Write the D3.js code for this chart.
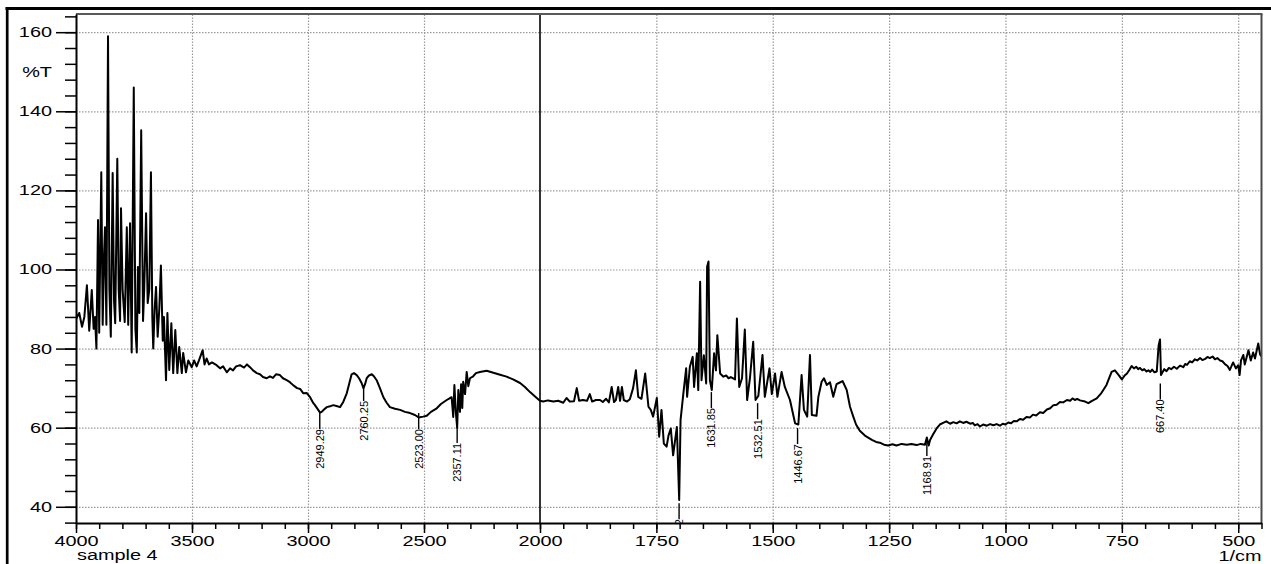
<!DOCTYPE html>
<html>
<head>
<meta charset="utf-8">
<script src="https://cdn.jsdelivr.net/npm/d3@7"></script>
<style>
  html, body { margin: 0; padding: 0; background: #fff; }
  svg { display: block; }
  text { font-family: "Liberation Sans", Arial, sans-serif; fill: #000; }
</style>
</head>
<body>
<svg id="chart" width="1271" height="564"></svg>
<script>
// ---------------- DATA ----------------
const wavenumberHead = [
4000,3986,3974,3964,3953,3943,3932,3924,3918,3912,3905,3900,3891,3885,3879,3875,3869,3862,3856,3850,
3842,3836,3831,3822,3816,3810,3806,3799,3790,3781,3775,3767,3760,3751,3744,3738,3733,3727,3719,3711,
3706,3698,3691,3684,3677,3671,3667,3661,3655,3648,3641,3634,3626,3621,3612,3606,3598,3589,3581,3572,
3563,3555,3544,3538,3526,3516,3501,3491,3480,3470,3454,3446,3437,3427,3414,3394,3379,3366,3350,3336,
3323,3310,3293,3276,3263,3250,3237,3221,3207,3194,3178,3164,3151,3138,3121,3108,3092,3078,3063,3047,
3034,3020,3006,2991,2977,2970,2956,2948,2941,2931,2919,2905,2891,2877,2862,2848,2833,2823,2812,2802,
2790,2780,2769,2761,2754,2747,2737,2725,2716,2704,2690,2675,2661,2647,2625,2603,2582,2560,2539,2523,
2504,2488,2470,2445,2427,2402,2388,2381,2374,2369,2363,2357,2352,2345,2340,2335,2331,2323,2316,2309,
2302,2288,2276,2259,2230,2201,2172,2144,2116,2086,2065,2043,2014,2000
];
const transmittanceHead = [
87.5,89,85.5,88,96,84.5,94.8,85,88,80,112.5,84,124.6,86,104,110.7,86,159,95,83,
124.4,92,86.4,128,95,87,115.5,94.8,86.7,110.7,86,111.7,79,146,85,79,100.6,89,135.2,87,
95,114.2,91.5,95,124.6,88,80,90,95.6,83,90,101,82,88,72,89,74.6,86.4,73.8,84.7,
73.8,80.4,73.8,78.9,74,77,75.3,77,75.5,77,79.6,76,77.5,76,76.5,75.8,75,75.5,74,75,
74.5,75.5,75.8,75.2,76,75.3,74.5,73.8,73.5,72.8,72.5,73,72.6,73.5,73.3,72.5,72,71.5,70.7,70,
69.8,68.7,68.8,67.7,66.2,65.7,64.5,63.8,64,64.6,65.2,65.4,65.7,65.5,65.2,66.5,68.7,71,73.5,73.8,
73.3,72.5,71.3,70,71,72.5,73.2,73.5,73,72,70,67.7,66.3,65.2,64.8,64.5,64,63.7,63.2,62.6,
62.8,63,64,64.9,66,67,67.5,67.7,62.7,70.8,64,60,69.5,64,71,65,71.6,68.5,74.1,70.5,
72.5,73,73.8,74.1,74.4,73.9,73.4,72.9,72.2,71.3,70.3,69,67.5,66.8
];
const wavenumberMid = [
1993,1983,1971,1961,1950,1943,1936,1927,1921,1916,1908,1899,1893,1888,1880,1871,1865,1858,1852,1846,
1841,1837,1832,1828,1824,1820,1813,1807,1800,1794,1789,1782,1774,1767,1762,1757,1749,1744,1739,1734,
1728,1724,1719,1714,1706,1701,1698,1692,1686,1684,1678,1672,1669,1663,1660,1656,1653,1648,1643,1641,
1638,1635,1631,1626,1622,1619,1613,1606,1600,1595,1590,1581,1577,1572,1566,1560,1555,1549,1542,1537,
1531,1522,1517,1507,1502,1495,1490,1481,1474,1463,1452,1445,1438,1433,1426,1420,1416,1406,1402,1395,
1390,1384,1377,1370,1363,1358,1350,1341,1334,1327,1321,1313,1302
];
const transmittanceMid = [
66.6,66.9,66.6,66.8,66.3,67.5,66.6,66.7,70,66.8,67,66.8,68.5,66.6,67,67,66.5,67.3,66.4,70.3,
66.5,67,70.3,66.8,70.3,67,66.6,67.2,70,74.5,67.8,67.3,73.7,65.3,64.5,62.8,67.5,57.7,64.5,56,
55.2,58,59.8,53,60.2,41.7,62,68.7,75,67.8,75.4,77.9,70.3,78.8,69.5,96.9,72,78.3,71.2,100.7,
102,72,69.5,78.8,74.5,83.4,73.7,72.9,73.2,72.5,72.8,72.2,87.6,70.3,72.5,84.8,67,72.5,81.7,67,
68,78.4,67.8,75,68.5,73.7,67.8,74.1,70.3,67,61.1,60.8,73.3,64.5,62.8,78.4,63.2,63,67.8,71.6,
72.5,70.8,71.5,67.8,71,71.3,71.8,69.5,65.3,62.8,60.8,59.2,58
];
const wavenumberTail = [
1287,1278,1270,1261,1252,1243,1234,1223,1212,1202,1191,1182,1173,
1169,1165,1162,1156,1148,1141,
1134,1127,1119,1112,1105,1098,1091,1084,1076,1070,1066,1060,1055,1048,1040,1033,1026,1019,1012,1006,
1000,994,988,982,976,969,962,955,947,941,934,926,919,911,904,897,890,883,876,868,
861,856,851,846,840,829,822,814,804,795,783,772,765,758,750,744,739,734,729,724,
719,715,711,706,702,697,693,689,685,680,675,671,668,666,659,654,649,644,638,632,
625,618,614,610,604,599,593,588,582,577,571,566,561,555,550,545,539,534,528,523,
518,511,505,500,497,494,489,486,478,473,468,464,457,453,450
];
const transmittanceTail = [
56.9,56.4,56.2,55.7,55.5,55.8,55.5,55.9,55.7,55.9,55.6,55.9,55.7,
57.5,55.5,56.9,58.2,59.8,60.8,
61.2,61.6,61,61.4,61.1,61.6,61.2,61.5,61,61.2,60.6,60.9,60.3,60.8,60.5,60.9,60.6,60.9,60.5,61,
60.8,61.3,61.1,61.7,61.6,62.2,62,62.7,62.6,63.3,63.1,63.9,63.7,64.6,64.9,65.7,65.8,66.5,66.4,67,
66.8,67.4,67,67.3,66.9,66.6,66.2,66.8,67.4,68.6,70.8,74.1,74.5,73.5,72.2,73.2,73.7,74.6,75.6,75,
75.4,74.8,75.1,74.5,74.8,74.2,74.5,74.1,74.7,74,74.2,80.8,82.3,73.3,74.8,74.3,75.1,74.8,75.4,74.9,
75.7,75.3,76.1,75.9,76.8,76.5,77.3,77,77.6,77.1,77.4,77.9,77.6,78,77.3,77.6,77,76.8,76,75.6,
74.6,76.5,75,75.8,73.3,77,78.4,76,79.6,77,79,77.5,81.3,78.5,78
];

// peak table: wavenumber, label text, %T where the marker starts
const peakWavenumbers = [2949.29, 2760.25, 2523.00, 2357.11, 1701.22, 1631.85, 1532.51, 1446.67, 1168.91, 667.40];
const peakLabels = ["2949.29", "2760.25", "2523.00", "2357.11", "1701.22", "1631.85", "1532.51", "1446.67", "1168.91", "667.40"];
const peakLevels = [63.7, 70.8, 63.7, 60.2, 40.9, 69.0, 66.2, 59.9, 56.9, 71.2];

const xDomain = [4000, 2000, 450];
const xMajorTicks = [4000, 3500, 3000, 2500, 2000, 1750, 1500, 1250, 1000, 750, 500];
const yDomain = [35.9, 164.6];
const yMajorTicks = [40, 60, 80, 100, 120, 140, 160];
const yAxisLabel = "%T";
const xAxisLabel = "1/cm";
const sampleName = "sample 4";

const wavenumber = wavenumberHead.concat(wavenumberMid, wavenumberTail);
const transmittance = transmittanceHead.concat(transmittanceMid, transmittanceTail);
if (wavenumber.length !== transmittance.length) throw new Error("length mismatch " + wavenumber.length + " vs " + transmittance.length);

// ---------------- LAYOUT ----------------
const L = 76, R = 1261.5, T = 14, B = 523;
const svg = d3.select("#chart");

const x = d3.scaleLinear().domain(xDomain).range([L, 540, R]);
const y = d3.scaleLinear().domain(yDomain).range([B, T]);

const xMinor = d3.range(4000, 2000, -100).concat(d3.range(2000, 449, -50));
const yMinor = d3.range(36, 165, 4);

const SX = 1.42; // horizontal stretch of tick lettering

svg.append("defs").append("clipPath").attr("id", "plotclip")
  .append("rect").attr("x", L).attr("y", T).attr("width", R - L).attr("height", B - T);

// grid
const gridX = svg.append("g").attr("transform", `translate(0,${B})`)
  .call(d3.axisBottom(x).tickValues(xMajorTicks.filter(d => d !== 4000 && d !== 2000)).tickSize(-(B - T)).tickFormat(""));
gridX.select(".domain").remove();
gridX.selectAll("line").attr("stroke", "#9a9a9a").attr("stroke-width", 1.2).attr("stroke-dasharray", "1.5,1.5");

const gridY = svg.append("g").attr("transform", `translate(${L},0)`)
  .call(d3.axisLeft(y).tickValues(yMajorTicks).tickSize(-(R - L)).tickFormat(""));
gridY.select(".domain").remove();
gridY.selectAll("line").attr("stroke", "#9a9a9a").attr("stroke-width", 1.2).attr("stroke-dasharray", "1.5,1.5");

// 2000 divider
svg.append("line").attr("x1", x(2000)).attr("x2", x(2000)).attr("y1", T).attr("y2", B)
  .attr("stroke", "#000").attr("stroke-width", 1.6);

// spectrum
const pts = wavenumber.map((w, i) => [w, transmittance[i]]);
svg.append("path").datum(pts)
  .attr("clip-path", "url(#plotclip)")
  .attr("fill", "none").attr("stroke", "#000").attr("stroke-width", 2).attr("stroke-linejoin", "round")
  .attr("d", d3.line().x(d => x(d[0])).y(d => y(d[1])));

// peak markers
const pk = svg.append("g").attr("clip-path", "url(#plotclip)");
peakWavenumbers.forEach((w, i) => {
  const px = x(w), py = y(peakLevels[i]);
  pk.append("line").attr("x1", px).attr("x2", px).attr("y1", py).attr("y2", py + 16)
    .attr("stroke", "#000").attr("stroke-width", 1.4);
  pk.append("text")
    .attr("transform", `translate(${px},${py + 16}) rotate(-90)`)
    .attr("text-anchor", "end").attr("dy", "0.36em")
    .style("font-size", "11px")
    .text(peakLabels[i]);
});

// plot frame: top and right (grey)
svg.append("line").attr("x1", L).attr("x2", R + 1).attr("y1", T).attr("y2", T).attr("stroke", "#5a5a5a").attr("stroke-width", 2);
svg.append("line").attr("x1", R).attr("x2", R).attr("y1", T).attr("y2", B).attr("stroke", "#4a4a4a").attr("stroke-width", 2);

// axes
function styleAxis(g) {
  g.select(".domain").attr("stroke", "#000").attr("stroke-width", 2);
  g.selectAll(".tick line").attr("stroke", "#000").attr("stroke-width", 1.5);
}
const xMin = svg.append("g").attr("transform", `translate(0,${B})`)
  .call(d3.axisBottom(x).tickValues(xMinor).tickSize(6).tickFormat(""));
styleAxis(xMin); xMin.select(".domain").remove();
const xAx = svg.append("g").attr("transform", `translate(0,${B})`)
  .call(d3.axisBottom(x).tickValues(xMajorTicks).tickSize(10).tickSizeOuter(0).tickPadding(3).tickFormat(d3.format("d")));
styleAxis(xAx);
xAx.selectAll(".tick text").attr("transform", `scale(${SX},1)`).style("font-size", "14px").attr("fill", "#000");

const yMin = svg.append("g").attr("transform", `translate(${L},0)`)
  .call(d3.axisLeft(y).tickValues(yMinor).tickSize(11).tickFormat(""));
styleAxis(yMin); yMin.select(".domain").remove();
const yAx = svg.append("g").attr("transform", `translate(${L},0)`)
  .call(d3.axisLeft(y).tickValues(yMajorTicks).tickSize(20).tickSizeOuter(0).tickPadding(4).tickFormat(d3.format("d")));
styleAxis(yAx);
yAx.selectAll(".tick text").attr("x", -24 / SX).attr("transform", `scale(${SX},1)`).style("font-size", "14px").attr("fill", "#000");

// axis titles
svg.append("text").attr("transform", `translate(52,77) scale(${SX},1)`).attr("text-anchor", "end")
  .style("font-size", "14px").text(yAxisLabel);
svg.append("text").attr("transform", `translate(${R},561) scale(${SX},1)`).attr("text-anchor", "end")
  .style("font-size", "14px").text(xAxisLabel);
svg.append("text").attr("transform", `translate(77,560) scale(${SX},1)`).attr("text-anchor", "start")
  .style("font-size", "14px").text(sampleName);

// outer figure border (top and left)
svg.append("line").attr("x1", 5.5).attr("x2", 1271).attr("y1", 8.5).attr("y2", 8.5).attr("stroke", "#000").attr("stroke-width", 3);
svg.append("line").attr("x1", 7.2).attr("x2", 7.2).attr("y1", 7).attr("y2", 564).attr("stroke", "#000").attr("stroke-width", 2.7);
</script>
</body>
</html>
